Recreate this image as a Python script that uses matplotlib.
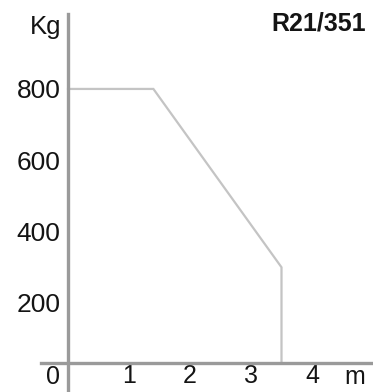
import matplotlib
matplotlib.use("Agg")
import matplotlib.pyplot as plt

# data
reach_m = [0, 1.4, 3.5, 3.5]
load_kg = [800, 800, 300, 32]
y_ticks = [200, 400, 600, 800]
x_ticks = [1, 2, 3, 4]
model = "R21/351"

plt.rcParams['font.family'] = ['Liberation Sans', 'DejaVu Sans']

fig = plt.figure(figsize=(3.73, 3.92), dpi=100)
ax = fig.add_axes([0, 0, 1, 1])

# pixel mapping: x=0 at 68px, 61px per metre; 0 kg at 374px, 0.3567 px per kg
ax.set_xlim(-68 / 61, 305 / 61)
ax.set_ylim(-(392 - 374.3) / 0.3567, 374.3 / 0.3567)
axis_y = 31.7

ax.plot(reach_m, load_kg, color='#c4c4c4', lw=1.6, solid_joinstyle='miter', zorder=1)

axis_col = '#9a9a9a'
txt_col = '#141414'
for s in ['top', 'right']:
    ax.spines[s].set_visible(False)
ax.spines['left'].set_position(('data', 0))
ax.spines['left'].set_bounds(-60, 1010)
ax.spines['bottom'].set_position(('data', axis_y))
ax.spines['bottom'].set_bounds(-0.44, 5.1)
for s in ['left', 'bottom']:
    ax.spines[s].set_color(axis_col)
    ax.spines[s].set_linewidth(2.4)
    ax.spines[s].set_zorder(3)

ax.set_yticks(y_ticks)
ax.set_xticks(x_ticks)
ax.tick_params(length=0, labelsize=19, labelcolor=txt_col)
ax.tick_params(axis='y', pad=5.5)
ax.tick_params(axis='x', pad=0.5, labelsize=18)

ax.annotate('0', xy=(0, axis_y), xytext=(-6, -1.5), textcoords='offset points',
            ha='right', va='top', fontsize=18, color=txt_col)
ax.annotate('m', xy=(4.7, axis_y), xytext=(0, -1.5), textcoords='offset points',
            ha='center', va='top', fontsize=18, color=txt_col)
ax.annotate('Kg', xy=(0, 1010), xytext=(-5, -1), textcoords='offset points',
            ha='right', va='top', fontsize=18.5, color=txt_col)
ax.text(0.98, 0.97, model, transform=ax.transAxes, ha='right', va='top',
        fontsize=18, fontweight='bold', color=txt_col)

fig.savefig('out.png', dpi=100)
